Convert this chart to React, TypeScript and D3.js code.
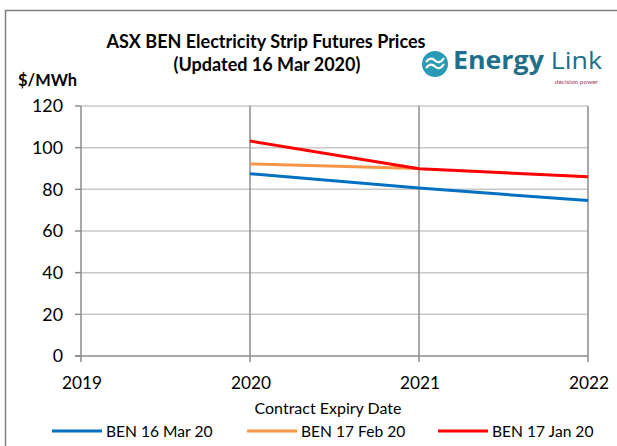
import React from 'react';
import * as d3 from 'd3';

// Data
const years = [2019, 2020, 2021, 2022];
const yTicks = [0, 20, 40, 60, 80, 100, 120];
const ben16Mar20 = [
  { year: 2020, value: 87.5 },
  { year: 2021, value: 80.6 },
  { year: 2022, value: 74.6 },
];
const ben17Feb20 = [
  { year: 2020, value: 92.2 },
  { year: 2021, value: 90.0 },
];
const ben17Jan20 = [
  { year: 2020, value: 103.2 },
  { year: 2021, value: 89.9 },
  { year: 2022, value: 86.0 },
];
const seriesNames = ['BEN 16 Mar 20', 'BEN 17 Feb 20', 'BEN 17 Jan 20'];
const seriesColors = ['#0070c0', '#f79646', '#ff0000'];

const W = 617;
const H = 446;
const font = 'Lato, "Open Sans", sans-serif';

export default function App() {
  const x = d3.scaleLinear().domain([2019, 2022]).range([81, 588]);
  const y = d3.scaleLinear().domain([0, 120]).range([356, 106]);
  const line = d3
    .line<{ year: number; value: number }>()
    .x((d) => x(d.year))
    .y((d) => y(d.value));
  const allSeries = [ben16Mar20, ben17Feb20, ben17Jan20];
  const legendX = [52, 247, 438];

  return (
    <svg
      width={W}
      height={H}
      style={{ position: 'absolute', left: 0, top: 0, background: '#fff' }}
      fontFamily={font}
    >
      <rect x={0} y={0} width={W} height={H} fill="#fff" />
      {/* outer frame */}
      <path d={`M5.5,${H} V10.5 H${W}`} fill="none" stroke="#7f7f7f" strokeWidth={1.5} />

      {/* title */}
      <text x={266} y={48} textAnchor="middle" fontSize={18} fontWeight="bold">
        ASX BEN Electricity Strip Futures Prices
      </text>
      <text x={267} y={71} textAnchor="middle" fontSize={18} fontWeight="bold">
        (Updated 16 Mar 2020)
      </text>
      <text x={18} y={86} fontSize={16.4} fontWeight="bold">
        $/MWh
      </text>

      {/* logo */}
      <g>
        <circle cx={435} cy={64} r={13} fill="#2a9ab5" />
        <path
          d="M426,62 q4.5,-6 9,-1.5 t9,-2.5 M426,68 q4.5,-6 9,-1.5 t9,-2.5"
          fill="none"
          stroke="#fff"
          strokeWidth={2.2}
        />
        <text
          x={453}
          y={69}
          fontSize={24.5}
          fill="#1f6f8b"
          fontFamily='"Open Sans", sans-serif'
          textLength={149}
          lengthAdjust="spacingAndGlyphs"
        >
          <tspan fontWeight="bold">Energy</tspan>
          <tspan> Link</tspan>
        </text>
        <text x={598} y={84} textAnchor="end" fontSize={6.5} fill="#a04060">
          decision power
        </text>
      </g>

      {/* horizontal gridlines */}
      {yTicks.filter((t) => t > 0).map((t) => (
        <line key={t} x1={x(2019)} x2={x(2022)} y1={y(t)} y2={y(t)} stroke="#c8c8c8" strokeWidth={1.5} />
      ))}
      {/* vertical gridlines */}
      {years.filter((yr) => yr > 2019).map((yr) => (
        <line key={yr} x1={x(yr)} x2={x(yr)} y1={y(120)} y2={y(0) + 6} stroke="#8c8c8c" strokeWidth={1.5} />
      ))}
      {/* y axis */}
      <line x1={x(2019)} x2={x(2019)} y1={y(120)} y2={y(0) + 6} stroke="#8c8c8c" strokeWidth={1.5} />
      {yTicks.map((t) => (
        <g key={t}>
          <line x1={x(2019) - 6} x2={x(2019)} y1={y(t)} y2={y(t)} stroke="#8c8c8c" strokeWidth={1.5} />
          <text x={63} y={y(t)} dy="0.36em" textAnchor="end" fontSize={17.8}>
            {t}
          </text>
        </g>
      ))}
      {/* x axis */}
      <line x1={x(2019) - 6} x2={x(2022)} y1={y(0)} y2={y(0)} stroke="#8c8c8c" strokeWidth={1.5} />
      {years.map((yr) => (
        <text key={yr} x={x(yr) + 1} y={389} textAnchor="middle" fontSize={17.3}>
          {yr}
        </text>
      ))}
      <text x={328} y={414} textAnchor="middle" fontSize={16}>
        Contract Expiry Date
      </text>

      {/* series */}
      {allSeries.map((s, i) => (
        <path key={i} d={line(s) || ''} fill="none" stroke={seriesColors[i]} strokeWidth={3} />
      ))}

      {/* legend */}
      {seriesNames.map((name, i) => (
        <g key={name}>
          <line x1={legendX[i]} x2={legendX[i] + 50} y1={431} y2={431} stroke={seriesColors[i]} strokeWidth={3} />
          <text x={legendX[i] + 54} y={431} dy="0.36em" fontSize={15.6}>
            {name}
          </text>
        </g>
      ))}
    </svg>
  );
}
